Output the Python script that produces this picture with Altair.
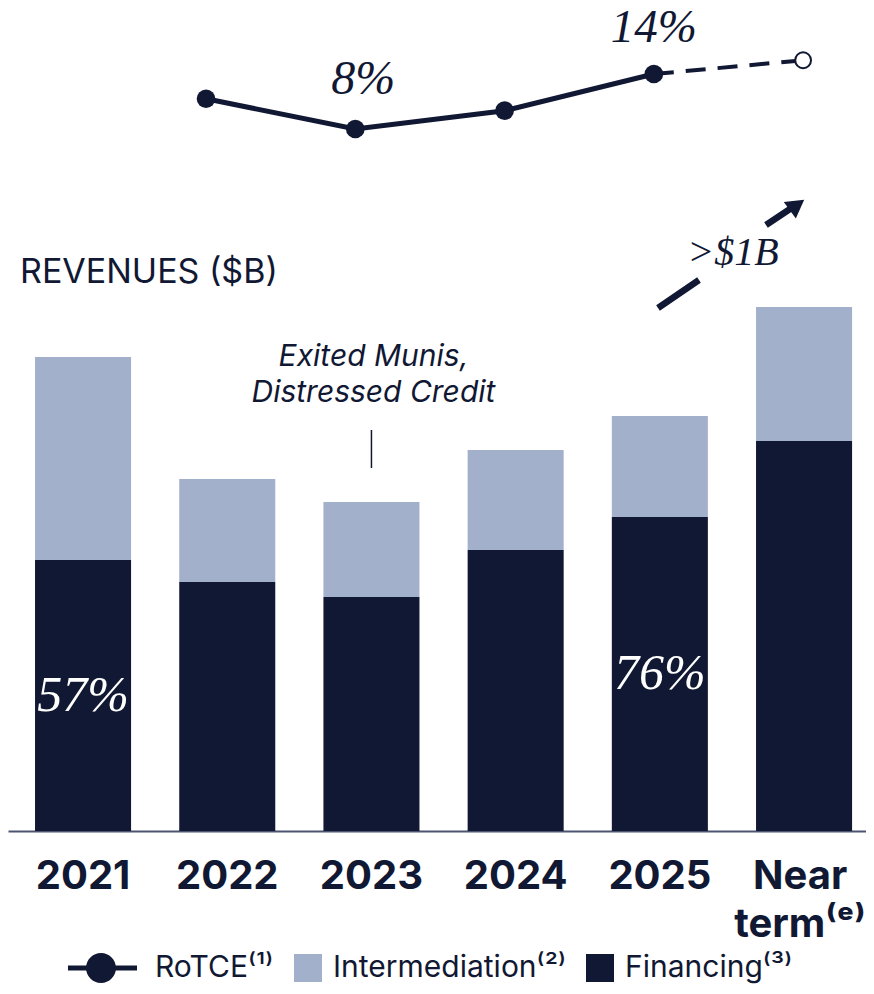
import altair as alt
import pandas as pd

# ---------------- data ----------------
categories = ["2021", "2022", "2023", "2024", "2025", "Near term"]
financing = [2.71, 2.49, 2.34, 2.81, 3.14, 3.90]
intermediation = [2.03, 1.03, 0.95, 1.00, 1.01, 1.34]
share_labels = ["57%", "", "", "", "76%", ""]

rotce_categories = ["2022", "2023", "2024", "2025", "Near term"]
rotce = [11.3, 8.0, 10.0, 14.0, 15.5]
rotce_labels = ["", "8%", "", "14%", ""]
rotce_kind = ["actual", "actual", "actual", "actual", "target"]

legend_labels = ["RoTCE⁽¹⁾", "Intermediation⁽²⁾", "Financing⁽³⁾"]
note_category = ["2023"]
note_text = ["Exited Munis,\nDistressed Credit"]

NAVY = "#111833"
LIGHT = "#A3B0CB"
SERIF = "Liberation Serif"
SANS = "Inter"

bar_df = pd.DataFrame({"category": categories, "financing": financing,
                       "intermediation": intermediation, "share": share_labels})
line_df = pd.DataFrame({"category": rotce_categories, "rotce": rotce,
                        "label": rotce_labels, "kind": rotce_kind})
legend_df = pd.DataFrame({"series": legend_labels})
note_df = pd.DataFrame({"category": note_category, "note": note_text})
one = pd.DataFrame({"k": [0]})

# ---------------- bar group ----------------
x_band = alt.X(
    "category:N", sort=categories,
    scale=alt.Scale(domain=categories, paddingInner=0.334, paddingOuter=0.142, align=0.66),
    axis=alt.Axis(title=None, labelAngle=0, labelFont=SANS, labelFontWeight="bold",
                  labelFontSize=40, labelColor=NAVY, labelPadding=25, ticks=False,
                  domainColor="#4d5470", domainWidth=2, labelLineHeight=48, grid=False,
                  labelLimit=300,
                  labelOffset={"condition": {"test": "datum.value == 'Near term'", "value": -4},
                               "value": 0},
                  labelExpr="datum.value == 'Near term' ? ['Near', 'term⁽ᵉ⁾'] : datum.value"),
)
ybar_scale = alt.Scale(domain=[0, 8.23], nice=False, zero=True)

bars_fin = alt.Chart(bar_df).mark_bar(color=NAVY).encode(
    x=x_band, y=alt.Y("financing:Q", scale=ybar_scale, axis=None))

bars_int = alt.Chart(bar_df).transform_calculate(
    total="datum.financing + datum.intermediation"
).mark_bar(color=LIGHT).encode(
    x=x_band, y=alt.Y("financing:Q", scale=ybar_scale, axis=None), y2="total:Q")

share_text = alt.Chart(bar_df).transform_filter("datum.share != ''").transform_calculate(
    mid="datum.financing / 2"
).mark_text(font=SERIF, fontStyle="italic", fontSize=50, color="white", baseline="middle").encode(
    x=x_band, y=alt.Y("mid:Q", scale=ybar_scale, axis=None), text="share:N")

note = alt.Chart(note_df).mark_text(
    font=SANS, fontStyle="italic", fontSize=30, color=NAVY, lineBreak="\n",
    lineHeight=36, baseline="alphabetic", align="center", dx=2
).encode(x=x_band, y=alt.value(358), text="note:N")

note_tick = alt.Chart(note_df).mark_rule(color=NAVY, strokeWidth=1.5).encode(
    x=x_band, y=alt.value(422), y2=alt.value(460))

rotce_path = ("M-4.43,-0.18H0.5V0.18H-4.43Z "
              "M-1.0,0A1.07,1.07 0 1,1 -3.14,0A1.07,1.07 0 1,1 -1.0,0Z")
leg = alt.Legend(orient="none", legendX=107, legendY=945, direction="horizontal",
                 title=None, symbolSize=784, labelFont=SANS, labelFontSize=30,
                 labelColor=NAVY, labelOffset=10, columnPadding=19, labelLimit=400,
                 symbolStrokeWidth=0, padding=0, symbolOpacity=1)
legend_pts = alt.Chart(legend_df).mark_point(filled=True, clip=True, opacity=1).encode(
    x=alt.value(-200), y=alt.value(-200),
    color=alt.Color("series:N", sort=legend_labels,
                    scale=alt.Scale(domain=legend_labels, range=[NAVY, LIGHT, NAVY]), legend=leg),
    shape=alt.Shape("series:N", sort=legend_labels,
                    scale=alt.Scale(domain=legend_labels, range=[rotce_path, "square", "square"]),
                    legend=leg),
)

bar_group = alt.layer(bars_int, bars_fin, share_text, note, note_tick, legend_pts)

# ---------------- RoTCE line group ----------------
x_pt = alt.X("category:N", sort=rotce_categories,
             scale=alt.Scale(type="point", domain=rotce_categories, padding=0.874, align=0.759),
             axis=None)
y_pt = alt.Y("rotce:Q", scale=alt.Scale(domain=[-68.58, 21.2], nice=False, zero=False), axis=None)

solid = alt.Chart(line_df).transform_filter("datum.kind == 'actual'").mark_line(
    color=NAVY, strokeWidth=5).encode(x=x_pt, y=y_pt)
dashed = alt.Chart(line_df).transform_filter(
    "datum.category == '2025' || datum.kind == 'target'"
).mark_line(color=NAVY, strokeWidth=4, strokeDash=[20, 12]).encode(x=x_pt, y=y_pt)
pts = alt.Chart(line_df).transform_filter("datum.kind == 'actual'").mark_point(
    filled=True, size=350, color=NAVY, opacity=1).encode(x=x_pt, y=y_pt)
hollow = alt.Chart(line_df).transform_filter("datum.kind == 'target'").mark_point(
    filled=True, fill="white", stroke=NAVY, strokeWidth=2, size=250, opacity=1
).encode(x=x_pt, y=y_pt)
line_text_8 = alt.Chart(line_df).transform_filter("datum.label == '8%'").mark_text(
    font=SERIF, fontStyle="italic", fontSize=48, color=NAVY, baseline="alphabetic", dy=-35, dx=8
).encode(x=x_pt, y=y_pt, text="label:N")
line_text_14 = alt.Chart(line_df).transform_filter("datum.label == '14%'").mark_text(
    font=SERIF, fontStyle="italic", fontSize=47, color=NAVY, baseline="alphabetic", dy=-32
).encode(x=x_pt, y=y_pt, text="label:N")

line_group = alt.layer(solid, dashed, pts, hollow, line_text_8, line_text_14)

# ---------------- annotations ----------------
revenues = alt.Chart(one).mark_text(
    font=SANS, fontSize=34, color=NAVY, align="left", baseline="alphabetic"
).encode(x=alt.value(12), y=alt.value(275), text=alt.value("REVENUES ($B)"))

arrow_low = alt.Chart(one).mark_rule(color=NAVY, strokeWidth=6.5, strokeCap="butt").encode(
    x=alt.value(650), y=alt.value(300), x2=alt.value(691), y2=alt.value(272))
arrow_up = alt.Chart(one).mark_rule(color=NAVY, strokeWidth=6.5, strokeCap="butt").encode(
    x=alt.value(758), y=alt.value(217), x2=alt.value(785), y2=alt.value(199))
arrow_head = alt.Chart(one).mark_point(
    shape="triangle-up", filled=True, color=NAVY, size=420, angle=54, opacity=1
).encode(x=alt.value(789), y=alt.value(197))
arrow_text = alt.Chart(one).mark_text(
    font=SERIF, fontStyle="italic", fontSize=40, color=NAVY, baseline="middle"
).encode(x=alt.value(725), y=alt.value(245), text=alt.value(">$1B"))

chart = alt.layer(
    bar_group, line_group, revenues, arrow_low, arrow_up, arrow_head, arrow_text
).resolve_scale(x="independent", y="independent").properties(
    width=858, height=823,
    background="white",
    autosize=alt.AutoSizeParams(type="none"),
    padding={"left": 0, "top": 0, "right": 0, "bottom": 155},
).configure_view(stroke=None)

chart.save("out.html", embed_options={"renderer": "svg", "actions": False})
